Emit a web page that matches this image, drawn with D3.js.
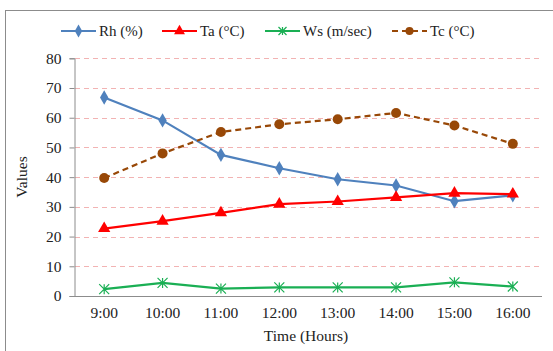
<!DOCTYPE html>
<html>
<head>
<meta charset="utf-8">
<script src="https://cdn.jsdelivr.net/npm/d3@7"></script>
<style>
  body { margin: 0; background: #fff; }
</style>
</head>
<body>
<div id="chart"></div>
<script>
// data
var hours = ["9:00", "10:00", "11:00", "12:00", "13:00", "14:00", "15:00", "16:00"];
var rh = [66.8, 59.1, 47.5, 43, 39.3, 37.2, 31.9, 33.9];
var ta = [22.7, 25.2, 28.0, 30.9, 31.8, 33.2, 34.6, 34.3];
var ws = [2.3, 4.4, 2.5, 2.9, 2.9, 2.9, 4.6, 3.2];
var tc = [39.7, 48, 55.2, 57.8, 59.5, 61.6, 57.4, 51.2];
var yTicks = [0, 10, 20, 30, 40, 50, 60, 70, 80];

var serif = "'Liberation Serif', 'Times New Roman', serif";
var width = 553, height = 351;
var svg = d3.select("#chart").append("svg")
  .attr("width", width)
  .attr("height", height);

// outer frame (runs off right / bottom like the original crop)
svg.append("rect")
  .attr("x", 5.5).attr("y", 10.5)
  .attr("width", 600).attr("height", 400)
  .attr("fill", "none").attr("stroke", "#8c8c8c").attr("stroke-width", 1);

var x = d3.scaleBand().domain(hours).range([75, 542]);
var y = d3.scaleLinear().domain([0, 80]).range([296, 58.3]);

// dashed grid
svg.append("g").selectAll("line")
  .data(yTicks.filter(d => d > 0))
  .enter().append("line")
  .attr("x1", 75).attr("x2", 541)
  .attr("y1", d => Math.round(y(d)) + 0.5)
  .attr("y2", d => Math.round(y(d)) + 0.5)
  .attr("stroke", "#f2b3b3")
  .attr("stroke-dasharray", "5,4");

// y axis
var yAxis = svg.append("g")
  .attr("transform", "translate(74.5,0)")
  .call(d3.axisLeft(y).tickValues(yTicks).tickSize(5).tickPadding(8));
yAxis.attr("font-family", serif).attr("font-size", 15.5);
yAxis.select(".domain").attr("stroke", "#8c8c8c");
yAxis.selectAll(".tick line").attr("stroke", "#8c8c8c");
yAxis.selectAll("text").attr("fill", "#222");

// x axis
var xAxis = svg.append("g")
  .attr("transform", "translate(0,296.5)")
  .call(d3.axisBottom(x).tickSize(0).tickPadding(10));
xAxis.attr("font-family", serif).attr("font-size", 15.5);
xAxis.select(".domain").attr("stroke", "#8c8c8c").attr("d", "M74,0H542");
xAxis.selectAll("text").attr("fill", "#222");

// axis titles
svg.append("text")
  .attr("transform", "translate(27,177) rotate(-90)")
  .attr("text-anchor", "middle")
  .attr("font-family", serif).attr("font-size", 15.5).attr("fill", "#222")
  .text("Values");
svg.append("text")
  .attr("x", 306).attr("y", 341)
  .attr("text-anchor", "middle")
  .attr("font-family", serif).attr("font-size", 15.5).attr("fill", "#222")
  .text("Time (Hours)");

var cx = d => x(d) + x.bandwidth() / 2;

var series = [
  { name: "Rh (%)", values: rh, color: "#4f81bd", dash: null, marker: "diamond" },
  { name: "Ta (°C)", values: ta, color: "#ff0000", dash: null, marker: "triangle" },
  { name: "Ws (m/sec)", values: ws, color: "#1aaf54", dash: null, marker: "star" },
  { name: "Tc (°C)", values: tc, color: "#984807", dash: "6,4", marker: "circle" }
];

function drawMarker(g, type, color, big) {
  var s = big ? 1 : 0.8;
  if (type === "diamond") {
    g.append("path").attr("d", d3.symbol(d3.symbolDiamond, 60 * s)).attr("fill", color);
  } else if (type === "triangle") {
    g.append("path").attr("d", d3.symbol(d3.symbolTriangle, 65 * s)).attr("fill", color);
  } else if (type === "circle") {
    g.append("circle").attr("r", 5 * s).attr("fill", color);
  } else {
    var r = 5 * s;
    g.append("path")
      .attr("d", `M${-r},${-r}L${r},${r}M${-r},${r}L${r},${-r}M0,${-r}L0,${r}`)
      .attr("stroke", color).attr("stroke-width", 1.2).attr("fill", "none");
  }
}

var line = d3.line().x((d, i) => cx(hours[i])).y(d => y(d));

series.forEach(function (s) {
  svg.append("path")
    .datum(s.values)
    .attr("d", line)
    .attr("fill", "none")
    .attr("stroke", s.color)
    .attr("stroke-width", 2.2)
    .attr("stroke-dasharray", s.dash);
  s.values.forEach(function (v, i) {
    var g = svg.append("g").attr("transform", `translate(${cx(hours[i])},${y(v)})`);
    drawMarker(g, s.marker, s.color, true);
  });
});

// legend
var legendX = [61, 162, 265, 392];
series.forEach(function (s, i) {
  var g = svg.append("g").attr("transform", `translate(${legendX[i]},31)`);
  g.append("line")
    .attr("x1", 0).attr("x2", 35)
    .attr("stroke", s.color).attr("stroke-width", 2.2)
    .attr("stroke-dasharray", s.dash);
  var m = g.append("g").attr("transform", "translate(17.5,0)");
  drawMarker(m, s.marker, s.color, false);
  g.append("text")
    .attr("x", 38).attr("y", 5)
    .attr("font-family", serif).attr("font-size", 15).attr("fill", "#222")
    .text(s.name);
});
</script>
</body>
</html>
